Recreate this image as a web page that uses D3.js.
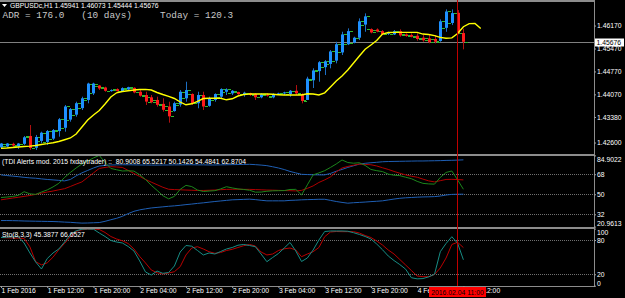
<!DOCTYPE html>
<meta charset="utf-8">
<style>
body { margin: 0; background: #000; }
svg { display: block; background: #000; }
.ax text { fill: #fff; font-size: 6.8px; font-family: "Liberation Sans", Arial, sans-serif; }
.ax line { stroke: #a0a0a0; }
.lbl { font-family: "Liberation Sans", Arial, sans-serif; font-size: 6.8px; }
.mono { font-family: "Liberation Mono", "DejaVu Sans Mono", monospace; font-size: 9.4px; white-space: pre; }
</style>
<svg width="625" height="298"></svg>
<script src="https://d3js.org/d3.v7.min.js"></script>
<script>

// H1 bars, 1 Feb 2016 04:00 .. 4 Feb 2016 12:00
var opens = [1.42450,1.42480,1.42560,1.42480,1.42560,1.42800,1.42440,1.42650,1.42620,1.42720,
  1.42950,1.43050,1.43300,1.43450,1.43650,1.43900,1.44100,1.44340,1.44280,1.44180,
  1.44230,1.44170,1.44220,1.44270,1.44150,1.44050,1.43980,1.43900,1.43780,1.43700,
  1.43560,1.43760,1.43950,1.44080,1.43800,1.44050,1.43720,1.43900,1.44000,1.44150,
  1.44100,1.44140,1.44080,1.44110,1.44080,1.43980,1.44060,1.43980,1.44070,1.44100,
  1.44080,1.44180,1.44080,1.43900,1.44500,1.44780,1.44900,1.45000,1.45100,1.45350,
  1.45600,1.45650,1.45800,1.46200,1.46060,1.46050,1.46000,1.45920,1.45900,1.46000,
  1.45900,1.45880,1.45860,1.45800,1.45780,1.45760,1.45700,1.46100,1.46250,1.46560,
  1.45941];
var highs = [1.42587,1.42587,1.42596,1.42587,1.42800,1.43135,1.42831,1.42931,1.42983,1.43013,
  1.43349,1.43746,1.43654,1.43846,1.43999,1.44426,1.44426,1.44355,1.44304,1.44224,
  1.44255,1.44285,1.44304,1.44285,1.44203,1.44151,1.44050,1.43999,1.43950,1.43846,
  1.43846,1.44203,1.44456,1.44102,1.44151,1.44151,1.43999,1.44102,1.44255,1.44255,
  1.44203,1.44151,1.44151,1.44121,1.44102,1.44102,1.44102,1.44102,1.44121,1.44151,
  1.44203,1.44355,1.44102,1.44609,1.44865,1.45087,1.45118,1.45423,1.45676,1.45981,
  1.46085,1.45829,1.46390,1.46542,1.46085,1.46085,1.46033,1.45981,1.46033,1.46054,
  1.45932,1.45932,1.45932,1.45881,1.45881,1.45881,1.46359,1.46664,1.46664,1.46643,
  1.46073];
var lows = [1.42434,1.42465,1.42455,1.42404,1.42526,1.42373,1.42373,1.42577,1.42526,1.42678,
  1.42779,1.42931,1.43236,1.43389,1.43593,1.43797,1.44050,1.44203,1.44151,1.44151,
  1.44151,1.44151,1.44203,1.44102,1.43999,1.43746,1.43797,1.43694,1.43541,1.43206,
  1.43541,1.43694,1.43846,1.43746,1.43645,1.43593,1.43694,1.43846,1.43950,1.44050,
  1.44050,1.44050,1.43999,1.44020,1.43898,1.43950,1.43999,1.43950,1.44050,1.44050,
  1.43999,1.44050,1.43797,1.43898,1.44264,1.44456,1.44660,1.44865,1.45017,1.45271,
  1.45575,1.45627,1.45728,1.45981,1.45932,1.45963,1.45881,1.45881,1.45881,1.45829,
  1.45829,1.45810,1.45707,1.45676,1.45627,1.45627,1.45676,1.45981,1.46186,1.45900,
  1.45444];
var closes = [1.42570,1.42570,1.42510,1.42570,1.42760,1.42434,1.42770,1.42900,1.42950,1.42980,
  1.43310,1.43700,1.43620,1.43800,1.43950,1.44400,1.44400,1.44250,1.44180,1.44200,
  1.44170,1.44260,1.44290,1.44130,1.44030,1.43850,1.43830,1.43750,1.43600,1.43400,
  1.43800,1.44150,1.44200,1.43800,1.44050,1.43700,1.43950,1.44080,1.44230,1.44220,
  1.44180,1.44080,1.44120,1.44050,1.43980,1.44070,1.44030,1.44080,1.44100,1.44130,
  1.44180,1.44100,1.43870,1.44550,1.44800,1.45050,1.45080,1.45380,1.45600,1.45900,
  1.46000,1.45800,1.46300,1.46450,1.45960,1.45990,1.45900,1.45960,1.46000,1.45870,
  1.45850,1.45830,1.45760,1.45720,1.45660,1.45680,1.46300,1.46600,1.46550,1.45941,
  1.45676];

// moving average, shifted 3 bars forward
var maLine = [1.42425,1.42434,1.42449,1.42465,1.42480,1.42489,1.42510,1.42541,1.42565,1.42593,
  1.42632,1.42684,1.42739,1.42861,1.43075,1.43288,1.43441,1.43578,1.43776,1.43990,
  1.44118,1.44157,1.44179,1.44203,1.44218,1.44224,1.44203,1.44127,1.44066,1.44011,
  1.43944,1.43837,1.43752,1.43782,1.43858,1.43944,1.43950,1.43950,1.43950,1.43904,
  1.43935,1.44020,1.44066,1.44081,1.44081,1.44081,1.44081,1.44072,1.44060,1.44050,
  1.44050,1.44050,1.44050,1.44087,1.44081,1.44050,1.44118,1.44295,1.44478,1.44630,
  1.44813,1.45027,1.45240,1.45448,1.45576,1.45713,1.45911,1.45957,1.45963,1.45963,
  1.45963,1.45963,1.45963,1.45911,1.45896,1.45865,1.45810,1.45783,1.45795,1.45926,
  1.46134,1.46231,1.46237,1.46079];

var tdiUpper = [67.4,66.8,66.3,65.8,65.2,64.7,64.4,63.8,63.3,62.9,
  62.5,62.0,63.3,66.5,69.2,71.4,73.6,75.4,75.9,76.3,
  76.4,76.5,76.5,76.4,76.3,76.3,76.2,76.2,76.3,76.3,
  76.4,76.4,76.5,76.5,76.4,76.4,76.3,76.3,76.4,76.5,
  76.6,76.7,76.8,76.9,76.6,76.2,75.7,74.7,73.6,72.2,
  70.5,69.2,67.9,67.7,67.5,67.4,67.4,68.7,70.7,72.3,
  74.1,75.6,77.1,77.8,78.3,78.7,79.2,79.4,79.5,79.6,
  79.7,79.8,79.9,79.9,80.0,80.1,80.2,80.4,80.5,80.7,
  80.9];
var tdiLower = [26.4,26.4,26.3,26.2,26.0,25.9,25.8,25.7,25.6,25.5,
  25.3,25.0,24.8,24.4,24.1,24.2,24.4,24.6,25.7,27.1,
  28.4,30.2,32.6,34.7,36.0,36.9,37.7,38.2,38.7,39.2,
  39.6,40.1,40.7,41.2,41.8,42.3,42.9,43.5,44.0,44.5,
  45.0,45.2,45.4,45.6,45.2,44.6,44.1,44.1,44.1,44.1,
  44.5,44.7,45.0,45.2,45.3,45.5,45.5,44.5,43.5,42.7,
  42.0,42.4,42.7,43.0,43.4,43.7,44.1,44.9,45.7,46.4,
  46.8,47.1,47.4,47.6,47.7,47.9,48.4,49.3,49.9,50.0,
  50.1];
var tdiRsi = [47.1,47.5,48.0,49.0,52.3,50.4,49.9,52.0,53.9,56.6,
  59.8,65.1,69.6,73.6,77.2,79.9,82.6,84.9,78.5,73.2,
  72.0,70.9,71.1,70.8,67.5,63.3,58.0,53.5,48.7,45.9,
  48.1,54.4,58.0,56.9,53.8,52.5,52.9,53.2,54.8,56.8,
  55.7,54.8,54.3,53.6,51.9,52.0,52.7,53.1,53.2,53.3,
  54.3,54.4,49.4,58.4,67.4,69.2,71.2,74.1,77.2,80.8,
  78.5,77.9,78.3,75.9,72.3,71.2,70.4,68.1,67.1,66.7,
  65.3,64.0,61.6,59.8,59.3,59.1,65.1,69.6,70.9,62.9,
  54.5];
var tdiSignal = [45.0,45.8,46.6,47.3,48.1,48.9,49.9,51.0,52.0,52.9,
  54.0,55.0,57.0,59.1,61.1,65.1,69.2,73.2,74.1,74.8,
  74.5,74.1,71.4,68.7,66.0,63.3,60.9,58.6,56.3,54.5,
  54.2,54.0,53.8,53.6,53.4,53.4,53.6,53.8,54.1,54.4,
  54.5,54.5,54.4,54.4,54.2,54.0,53.8,53.7,53.5,53.3,
  53.2,53.0,53.5,55.3,57.5,60.6,62.9,65.6,70.1,73.6,
  75.0,76.1,77.1,76.8,76.5,75.4,73.8,72.3,70.5,68.9,
  67.4,66.2,65.3,63.6,62.0,61.1,62.2,63.3,63.4,63.2,
  62.9];

var stoMain = [84.4,84.9,85.5,85.8,74.8,57.3,41.5,29.2,47.6,57.3,
  64.3,76.5,89.7,96.1,98.9,99.3,98.9,92.3,86.2,79.2,
  76.5,74.8,68.7,60.8,43.3,24.0,18.7,25.7,21.7,23.1,
  34.5,59.0,70.4,69.2,61.6,53.8,57.3,55.5,59.9,64.3,
  66.9,70.9,72.2,70.4,68.3,55.5,42.0,49.4,56.4,66.0,
  75.7,60.8,42.4,48.5,62.5,80.0,94.9,95.8,95.8,95.8,
  95.4,92.8,89.7,86.2,81.8,73.0,63.0,52.0,44.0,37.0,
  29.0,14.0,12.0,12.5,15.5,20.0,59.5,73.9,85.8,74.3,
  45.4];
var stoSignal = [84.4,83.9,83.5,83.2,82.7,68.0,42.0,36.5,40.0,50.0,
  63.0,74.0,86.0,95.0,98.0,98.8,99.3,98.4,93.2,86.2,
  81.8,78.6,73.9,64.3,51.1,39.8,27.5,22.6,20.5,22.2,
  24.5,33.3,53.8,66.0,68.3,64.3,59.5,56.7,58.1,61.6,
  63.7,66.9,70.1,72.2,69.5,59.0,53.8,55.5,61.6,64.6,
  66.0,62.5,50.8,55.5,59.5,66.9,85.8,94.0,94.9,94.6,
  94.6,94.6,92.3,87.9,84.4,78.3,71.3,62.5,55.5,45.9,
  36.3,26.6,17.0,15.8,15.8,19.6,31.0,48.5,72.2,76.0,
  66.7];

var timeLabels = ["1 Feb 2016","1 Feb 12:00","1 Feb 20:00","2 Feb 04:00","2 Feb 12:00",
  "2 Feb 20:00","3 Feb 04:00","3 Feb 12:00","3 Feb 20:00","4 Feb 04:00","4 Feb 12:00"];
var priceTicks = [1.46170, 1.45470, 1.44770, 1.44070, 1.43380, 1.42600];
var tdiTicks = [84.9022, 68, 50, 32, 20.9613];
var tdiLevels = [68, 50, 32];
var stoTicks = [100, 80, 20, 0];
var stoLevels = [80, 20];
var bidPrice = 1.45676;
var markerBar = 79;
var markerLabel = "2016.02.04 11:00";

var svg = d3.select("svg");
var axisX = 594;

var x = d3.scaleLinear().domain([0, 80]).range([1, 463.4]);
var yMain = d3.scaleLinear().domain([1.4225, 1.4692]).range([154, 1]);
var yTdi = d3.scaleLinear().domain([20.9613, 84.9022]).range([226.6, 155.4]);
var ySto = d3.scaleLinear().domain([0, 100]).range([285.7, 228.6]);

var defs = svg.append("defs");
[["clipMain", 1.5, 154], ["clipTdi", 156, 227], ["clipSto", 229, 286]].forEach(function(c) {
  defs.append("clipPath").attr("id", c[0]).append("rect")
      .attr("x", 0).attr("y", c[1]).attr("width", axisX).attr("height", c[2] - c[1]);
});

// panel frames
var frame = svg.append("g").attr("stroke", "#8c8c8c");
[1, 155, 228].forEach(function(y) {
  frame.append("line").attr("x1", 0).attr("x2", axisX).attr("y1", y).attr("y2", y).attr("stroke-width", 2);
});
frame.append("line").attr("x1", 0).attr("x2", axisX + 0.5).attr("y1", 286.5).attr("y2", 286.5);
frame.append("line").attr("x1", axisX + 0.5).attr("x2", axisX + 0.5).attr("y1", 0).attr("y2", 287);

// level lines
var lv = svg.append("g").attr("stroke", "#707070").attr("stroke-dasharray", "1,1");
tdiLevels.forEach(function(v) {
  var y = Math.round(yTdi(v)) + 0.5;
  lv.append("line").attr("x1", 0).attr("x2", axisX).attr("y1", y).attr("y2", y);
});
stoLevels.forEach(function(v) {
  var y = Math.round(ySto(v)) + 0.5;
  lv.append("line").attr("x1", 0).attr("x2", axisX).attr("y1", y).attr("y2", y);
});

// bid line
var bidY = Math.round(yMain(bidPrice)) + 0.5;
svg.append("line").attr("x1", 0).attr("x2", axisX).attr("y1", bidY).attr("y2", bidY)
    .attr("stroke", "#808080");

// candles
var main = svg.append("g").attr("clip-path", "url(#clipMain)");
var bars = d3.range(opens.length);
main.selectAll("path.ohlc").data(bars).enter().append("path")
    .attr("stroke", "#2dbb2d").attr("fill", "none")
    .attr("d", function(i) {
      var cx = Math.round(x(i));
      var yo = Math.round(yMain(opens[i])) + 0.5, yc = Math.round(yMain(closes[i])) + 0.5;
      return "M" + (cx - 4) + "," + yo + "H" + (cx - 1) + "M" + (cx + 2) + "," + yc + "H" + (cx + 5);
    });
main.selectAll("line.wick").data(bars).enter().append("line")
    .attr("x1", function(i) { return Math.round(x(i)) + 0.5; })
    .attr("x2", function(i) { return Math.round(x(i)) + 0.5; })
    .attr("y1", function(i) { return yMain(highs[i]); })
    .attr("y2", function(i) { return yMain(lows[i]); })
    .attr("stroke", function(i) { return closes[i] >= opens[i] ? "#1c6fc4" : "#b01010"; });
main.selectAll("rect.body").data(bars).enter().append("rect")
    .attr("x", function(i) { return Math.round(x(i)) - 1; })
    .attr("width", 3)
    .attr("y", function(i) { return yMain(Math.max(opens[i], closes[i])); })
    .attr("height", function(i) { return Math.max(1, Math.abs(yMain(opens[i]) - yMain(closes[i]))); })
    .attr("fill", function(i) { return closes[i] >= opens[i] ? "#1e90ff" : "#ff1a1a"; });

main.append("path").datum(maLine)
    .attr("fill", "none").attr("stroke", "#ffff00").attr("stroke-width", 1.4)
    .attr("d", d3.line().x(function(d, i) { return x(i); }).y(function(d) { return yMain(d); }));

// TDI
var tdi = svg.append("g").attr("clip-path", "url(#clipTdi)").attr("fill", "none");
var tdiLine = d3.line().x(function(d, i) { return x(i); }).y(function(d) { return yTdi(d); });
[[tdiUpper, "#1f5fb4"], [tdiLower, "#1f5fb4"], [tdiSignal, "#b00000"], [tdiRsi, "#1c861c"]].forEach(function(s) {
  tdi.append("path").datum(s[0]).attr("stroke", s[1]).attr("d", tdiLine);
});

// Stochastic
var sto = svg.append("g").attr("clip-path", "url(#clipSto)").attr("fill", "none");
var stoLine = d3.line().x(function(d, i) { return x(i); }).y(function(d) { return ySto(d); });
sto.append("path").datum(stoSignal).attr("stroke", "#b80000").attr("d", stoLine);
sto.append("path").datum(stoMain).attr("stroke", "#178c84").attr("d", stoLine);

// marker vertical line
var mX = Math.floor(x(markerBar)) + 0.5;
svg.append("line").attr("x1", mX).attr("x2", mX).attr("y1", 0).attr("y2", 286)
    .attr("stroke", "#c00000");

// right axes
function rightAxis(scale, ticks, fmt, top, bottom) {
  var g = svg.append("g").attr("class", "ax").attr("transform", "translate(" + axisX + ",0)")
      .call(d3.axisRight(scale).tickValues(ticks).tickFormat(fmt).tickSize(2).tickPadding(1));
  g.select(".domain").remove();
  g.selectAll("text").attr("y", function(d) {
    var y = scale(d);
    var c = Math.max(top + 3.5, Math.min(bottom - 3.5, y));
    return c - y;
  });
  return g;
}
rightAxis(yMain, priceTicks, d3.format(".5f"), 0, 154);
rightAxis(yTdi, tdiTicks, function(d) { return d % 1 ? d3.format(".4f")(d) : d; }, 156, 227);
rightAxis(ySto, stoTicks, function(d) { return d; }, 229, 287);

// bid label
var bid = svg.append("g").attr("transform", "translate(" + (axisX + 1) + "," + bidY + ")");
bid.append("rect").attr("x", 0).attr("y", -4).attr("width", 29).attr("height", 8).attr("fill", "#fff");
bid.append("text").attr("class", "lbl").attr("x", 1.5).attr("dy", "0.35em").attr("fill", "#000")
    .text(d3.format(".5f")(bidPrice));

// time axis
var tAxis = svg.append("g").attr("class", "ax").attr("transform", "translate(0,286)")
    .call(d3.axisBottom(x).tickValues(d3.range(0, 81, 8)).tickSize(2)
      .tickFormat(function(d, i) { return timeLabels[i]; }));
tAxis.select(".domain").remove();
tAxis.selectAll("text").attr("text-anchor", "start").attr("x", 0).attr("y", 2.5);

// marker time box
var mb = svg.append("g");
mb.append("rect").attr("x", mX - 28.5).attr("y", 287).attr("width", 57).attr("height", 10).attr("fill", "#ff0000");
mb.append("text").attr("class", "lbl").attr("x", mX).attr("y", 294.5).attr("text-anchor", "middle")
    .attr("fill", "#000").text(markerLabel);

// titles
svg.append("path").attr("d", "M2,4H7L4.5,7Z").attr("fill", "#fff");
svg.append("text").attr("class", "lbl").attr("x", 10).attr("y", 8).attr("fill", "#fff")
    .text("GBPUSDc,H1  1.45941 1.46073 1.45444 1.45676");
svg.append("text").attr("class", "mono").attr("x", 2.5).attr("y", 17.5).attr("fill", "#c8c8c8")
    .attr("xml:space", "preserve")
    .text("ADR = 176.0   (10 days)     Today = 120.3");
svg.append("text").attr("class", "lbl").attr("x", 2).attr("y", 164).attr("fill", "#fff")
    .style("white-space", "pre")
    .text("(TDI Alerts mod. 2015 fxdaytrader) ::  80.9008 65.5217 50.1426 54.4841 62.8704");
svg.append("text").attr("class", "lbl").attr("x", 2).attr("y", 236.5).attr("fill", "#fff")
    .text("Sto(8,3,3) 45.3877 66.6527");

</script>
